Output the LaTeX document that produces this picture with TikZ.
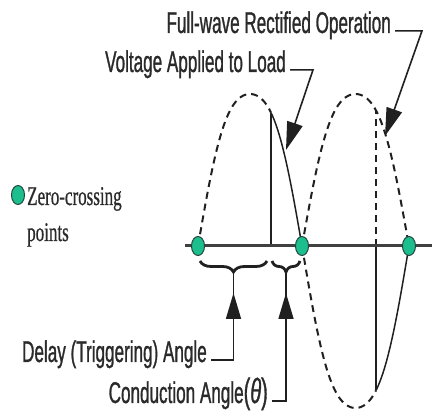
\documentclass[tikz,border=0pt]{standalone}
\usepackage{fontspec}
\usetikzlibrary{arrows.meta, shapes.geometric, decorations.pathreplacing, decorations.markings}
\newfontfamily\calloutfont[FakeStretch=0.57, FakeBold=0.9]{Liberation Sans}
\newfontfamily\legendfont[FakeStretch=0.63, FakeBold=0.6]{Liberation Serif}
\definecolor{AxisGray}{HTML}{404040}
\definecolor{WaveInk}{HTML}{202020}
\definecolor{TextInk}{HTML}{2A2A2A}
\definecolor{ZeroGreen}{HTML}{1DBE8E}
\definecolor{ZeroEdge}{HTML}{24463C}
\tikzset{
  calltext/.style={text=TextInk, inner xsep=4pt, inner ysep=0pt, font=\calloutfont\fontsize{30}{32}\selectfont},
  legendtext/.style={text=TextInk, inner sep=0pt, font=\legendfont\fontsize{27}{30}\selectfont},
  zerodot/.style={ellipse, draw=ZeroEdge, line width=1pt, fill=ZeroGreen, minimum width=13pt, minimum height=19pt, inner sep=0pt},
  wavedash/.style={draw=WaveInk, line width=2pt, dash pattern=on 7pt off 5pt},
  wavesolid/.style={draw=WaveInk, line width=1.5pt},
  axisline/.style={draw=AxisGray, line width=3pt},
  trigline/.style={draw=WaveInk, line width=1.3pt},
  trigdash/.style={draw=WaveInk, line width=1.3pt, dash pattern=on 7pt off 5pt},
  anglebrace/.style={draw=WaveInk, line width=2.8pt, decorate, decoration={brace, mirror, amplitude=11pt}},
  callarrow/.style={draw=WaveInk, line width=1.6pt, -{Triangle[length=28pt, width=16pt]}},
  uparrow/.style={draw=WaveInk, line width=1.6pt, postaction={decorate},
    decoration={markings, mark=at position -20pt with {\arrow{Triangle[length=26pt, width=15pt]}}}}
}

\begin{document}
\begin{tikzpicture}[x=1pt, y=1pt,
  declare function={hump(\hx,\ha,\hs,\hw)=\ha*(sin(((\hx-\hs)/\hw)*180)+0.06*sin(((\hx-\hs)/\hw)*540))/0.94;}]
\useasboundingbox (0,-169) rectangle (432,246);
% half-cycles of the line voltage
\draw[wavedash] plot[domain=198:271, samples=40] (\x,{hump(\x,152,198,104)});
\draw[wavesolid] plot[domain=271:302, samples=20] (\x,{hump(\x,152,198,104)});
\draw[wavedash] plot[domain=302:376, samples=40] (\x,{-hump(\x,162,302,107)});
\draw[wavesolid] plot[domain=376:409, samples=20] (\x,{-hump(\x,162,302,107)});
\draw[wavedash] plot[domain=302:409, samples=60] (\x,{hump(\x,152,302,107)});
% firing instants
\coordinate (f1b) at (271,0);
\coordinate (f1) at (271,{hump(271,152,198,104)});
\coordinate (f2b) at (376,0);
\coordinate (f2u) at (376,{hump(376,152,302,107)});
\coordinate (f2d) at (376,{-hump(376,162,302,107)});
\draw[trigline] (f1b) -- (f1);
\draw[trigdash] (f2b) -- (f2u);
\draw[trigline] (f2b) -- (f2d);
% axis and zero crossings
\coordinate (axL) at (185,0);
\coordinate (axR) at (432,0);
\draw[axisline] (axL) -- (axR);
\foreach \zx/\zn in {198/z1, 302/z2, 409/z3}
  \node[zerodot] (\zn) at (\zx,0) {};
% legend
\node[zerodot] (legdot) at (18,51) {};
\node[legendtext, anchor=base west] (zctext) at (27,41) {Zero-crossing};
\node[legendtext, anchor=base west] (pttext) at (27,5) {points};
% top callouts
\node[calltext, anchor=base east] (fwave) at (395,213) {Full-wave Rectified Operation};
\node[calltext, anchor=base east] (vload) at (290,174) {Voltage Applied to Load};
\coordinate (fbend) at (422,221);
\coordinate (ftip) at (385,110);
\coordinate (vbend) at (313,182);
\coordinate (vtip) at (286,96);
\draw[callarrow] (fwave.mid east) -- (fwave.mid east -| fbend) -- (ftip);
\draw[callarrow] (vload.mid east) -- (vload.mid east -| vbend) -- (vtip);
% angle braces
\draw[anglebrace] (200,-15) -- (267,-15);
\draw[anglebrace] (272,-15) -- (300,-15);
\coordinate (dtip) at (233.5,-27);
\coordinate (ctip) at (286,-27);
% bottom callouts
\node[calltext, anchor=base east] (delay) at (211,-116) {Delay (Triggering) Angle};
\node[calltext, anchor=base east] (cond) at (272,-157)
  {Conduction Angle{\fontsize{35}{35}\selectfont(\textit{θ})}};
\draw[uparrow] (delay.mid east) -| (dtip);
\draw[uparrow] (cond.mid east) -| (ctip);
\end{tikzpicture}
\end{document}
